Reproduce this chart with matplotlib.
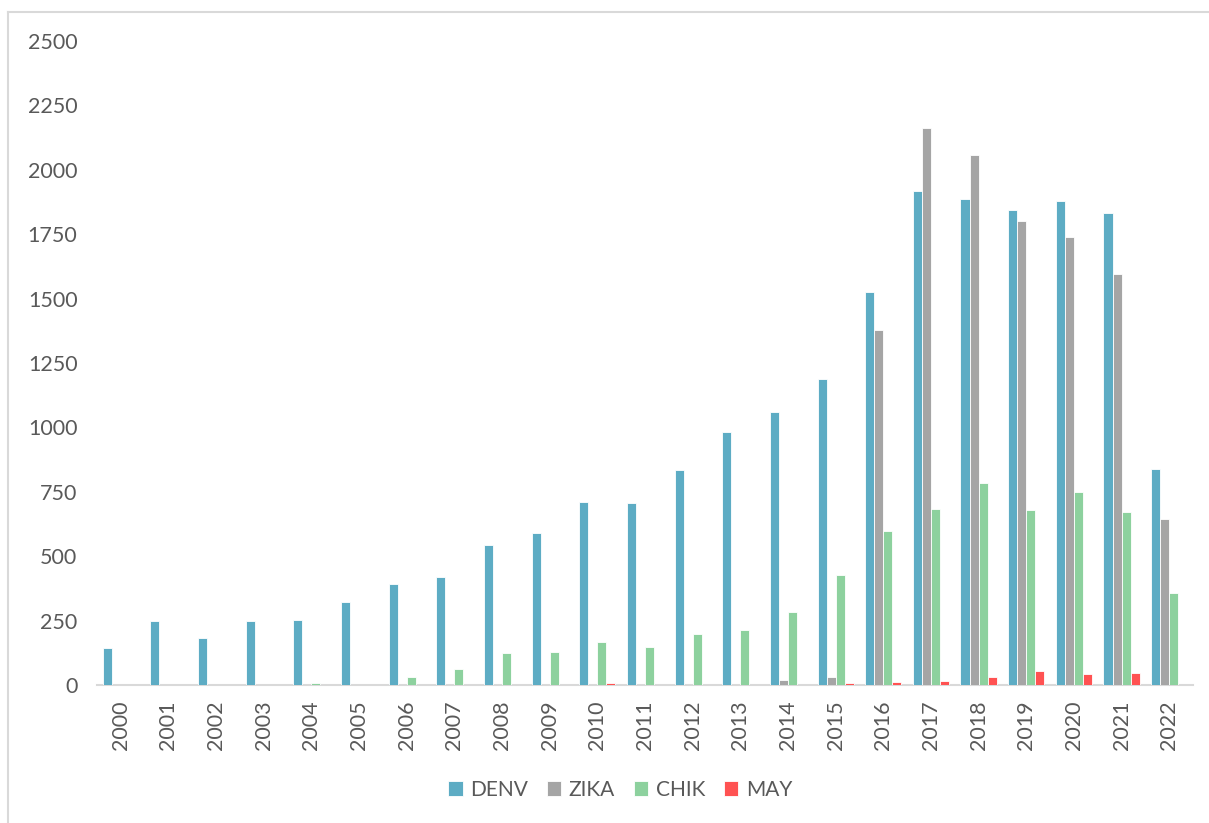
import numpy as np
import matplotlib
matplotlib.use('Agg')
import matplotlib.pyplot as plt
from matplotlib.lines import Line2D

plt.rcParams['font.family'] = ['Lato', 'DejaVu Sans']

years = [str(y) for y in range(2000, 2023)]

denv = [142, 247, 181, 247, 251, 321, 391, 419, 543, 591, 710, 705,
        835, 981, 1059, 1189, 1527, 1918, 1887, 1844, 1877, 1831, 840]
zika = [0, 0, 0, 0, 0, 0, 0, 0, 0, 0, 0, 0,
        0, 0, 19, 32, 1378, 2161, 2057, 1802, 1738, 1594, 646]
chik = [0, 0, 0, 0, 6, 0, 31, 61, 123, 128, 167, 148,
        198, 213, 282, 427, 597, 682, 785, 681, 750, 672, 356]
may = [0, 0, 0, 0, 0, 0, 0, 0, 0, 0, 9, 0,
       0, 0, 0, 9, 11, 17, 31, 56, 43, 47, 0]

series = [('DENV', denv, '#5DACC4'),
          ('ZIKA', zika, '#A5A5A5'),
          ('CHIK', chik, '#8DD19E'),
          ('MAY', may, '#FF5252')]

text_color = '#595959'

fig = plt.figure(figsize=(12.09, 8.23), dpi=100)
ax = fig.add_axes([0.0802, 0.1677, 0.9066, 0.7825])

x = np.arange(len(years))
w = 0.19
for i, (name, vals, color) in enumerate(series):
    ax.bar(x + (i - 1.5) * w, vals, width=w, color=color, label=name,
           edgecolor='white', linewidth=0.6, zorder=3)

ax.set_xlim(-0.5, len(years) - 0.5)
ax.set_ylim(0, 2500)
ax.set_yticks(np.arange(0, 2501, 250))
ax.set_xticks(x)
ax.set_xticklabels(years, rotation=90)

for side in ['top', 'right', 'left']:
    ax.spines[side].set_visible(False)
ax.spines['bottom'].set_color('#D9D9D9')
ax.spines['bottom'].set_linewidth(1.5)

ax.tick_params(axis='y', length=0, pad=14, labelsize=15.5, labelcolor=text_color)
ax.tick_params(axis='x', length=0, pad=11, labelsize=15.5, labelcolor=text_color)

leg = fig.legend(loc='center', bbox_to_anchor=(0.513, 0.04), ncol=4, frameon=False,
                 fontsize=15, handlelength=0.7, handleheight=0.7,
                 handletextpad=0.35, columnspacing=0.9)
for t in leg.get_texts():
    t.set_color(text_color)

# chart area frame (left and top edges)
fig.add_artist(Line2D([8 / 1209, 8 / 1209], [0, 1 - 12 / 823],
                      transform=fig.transFigure, color='#D9D9D9', lw=1.5))
fig.add_artist(Line2D([8 / 1209, 1], [1 - 12 / 823, 1 - 12 / 823],
                      transform=fig.transFigure, color='#D9D9D9', lw=1.5))

fig.savefig('out.png', dpi=100, facecolor='white')
